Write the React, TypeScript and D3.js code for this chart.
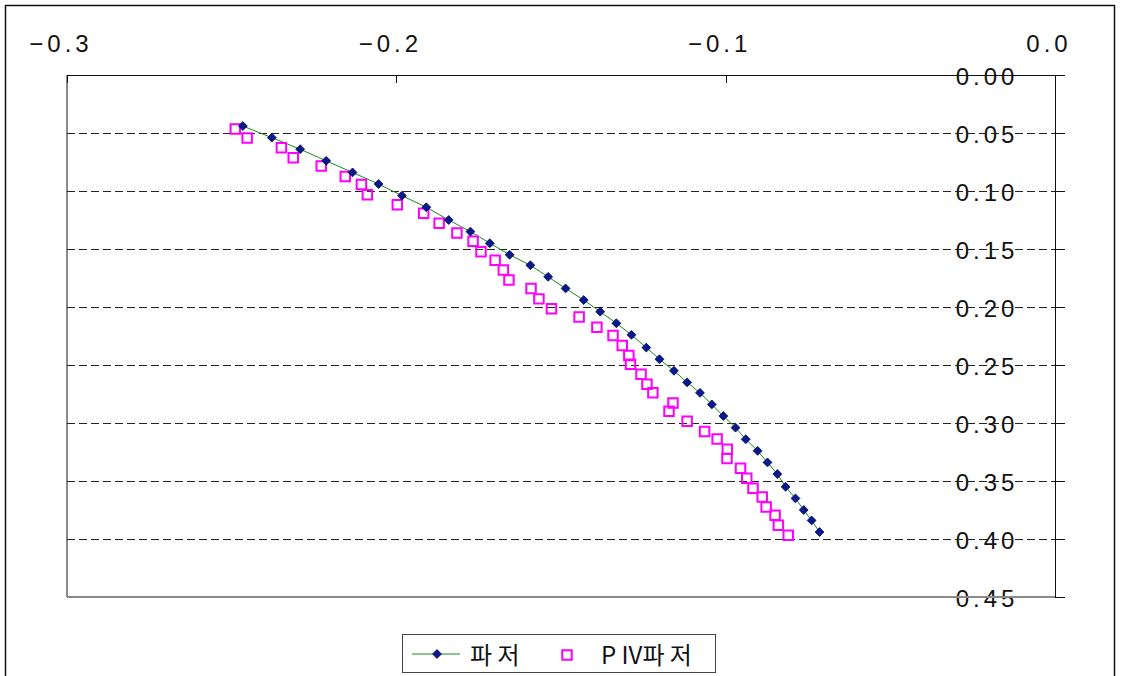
import React, { useEffect, useRef } from 'react';
import * as d3 from 'd3';

// series 1: 파저 (navy diamonds, green line)
const seriesAx = [
  -0.2466, -0.2378, -0.2292, -0.2213, -0.2133, -0.2054, -0.1983, -0.1909, -0.1841, -0.1775,
  -0.1716, -0.1656, -0.1593, -0.1539, -0.1486, -0.1431, -0.1381, -0.1332, -0.1286, -0.1241,
  -0.1201, -0.1157, -0.1117, -0.1078, -0.1042, -0.1007, -0.0970, -0.0939, -0.0903, -0.0873,
  -0.0843, -0.0818, -0.0788, -0.0763, -0.0739, -0.0715,
];
const seriesAy = [
  0.044, 0.054, 0.064, 0.074, 0.084, 0.094, 0.104, 0.114, 0.125, 0.135,
  0.145, 0.155, 0.164, 0.174, 0.184, 0.194, 0.204, 0.214, 0.224, 0.235,
  0.245, 0.255, 0.265, 0.274, 0.284, 0.294, 0.304, 0.314, 0.324, 0.334,
  0.344, 0.355, 0.365, 0.375, 0.384, 0.394,
];

// series 2: PIV파저 (magenta open squares)
const seriesBx = [
  -0.2489, -0.2453, -0.2349, -0.2313, -0.2228, -0.2155, -0.2106, -0.2088, -0.1997, -0.1917,
  -0.1870, -0.1816, -0.1767, -0.1743, -0.1700, -0.1675, -0.1658, -0.1591, -0.1567, -0.1529,
  -0.1445, -0.1391, -0.1342, -0.1314, -0.1294, -0.1289, -0.1257, -0.1239, -0.1221, -0.1160,
  -0.1172, -0.1117, -0.1064, -0.1026, -0.0995, -0.0996, -0.0955, -0.0936, -0.0917, -0.0889,
  -0.0877, -0.0850, -0.0840, -0.0810,
];
const seriesBy = [
  0.0466, 0.0543, 0.0627, 0.0713, 0.0785, 0.0874, 0.0943, 0.1033, 0.1119, 0.1192,
  0.1279, 0.1363, 0.1434, 0.1524, 0.1596, 0.1682, 0.1768, 0.1840, 0.1930, 0.2016,
  0.2087, 0.2174, 0.2245, 0.2332, 0.2418, 0.2493, 0.2579, 0.2665, 0.2740, 0.2827,
  0.2898, 0.2985, 0.3073, 0.3138, 0.3226, 0.3306, 0.3390, 0.3476, 0.3562, 0.3638,
  0.3724, 0.3795, 0.3882, 0.3968,
];

const xTicks = [-0.3, -0.2, -0.1, 0.0];
const yTicks = [0, 0.05, 0.1, 0.15, 0.2, 0.25, 0.3, 0.35, 0.4, 0.45];
const legendNames = ['파 저', 'P IV파 저'];

const numFont = '"Liberation Sans", Arial, sans-serif';
const krFont = '"Noto Sans CJK KR", "Liberation Sans", sans-serif';

const App = () => {
  const svgRef = useRef<SVGSVGElement>(null);

  useEffect(() => {
    const width = 1121;
    const height = 676;
    const plot = { left: 67, right: 1055, top: 75, bottom: 597 };

    const svg = d3.select(svgRef.current);
    svg.selectAll('*').remove();
    svg.attr('width', width).attr('height', height);

    svg.append('rect')
      .attr('width', width).attr('height', height).attr('fill', '#fff');

    // outer chart border
    svg.append('rect')
      .attr('x', 5.5).attr('y', 5.5)
      .attr('width', 1109).attr('height', 700)
      .attr('fill', 'none').attr('stroke', '#111').attr('stroke-width', 1.5);

    const x = d3.scaleLinear().domain([-0.3, 0]).range([plot.left, plot.right]);
    const y = d3.scaleLinear().domain([0, 0.45]).range([plot.top, plot.bottom]);

    // y labels (drawn under the grid, like the original)
    svg.append('g')
      .selectAll('text')
      .data(yTicks)
      .enter()
      .append('text')
      .attr('x', plot.right - 68)
      .attr('y', d => y(d) + 10)
      .attr('text-anchor', 'middle')
      .attr('font-family', numFont)
      .attr('font-size', 24)
      .attr('letter-spacing', 4)
      .attr('fill', '#111')
      .text(d => d3.format('.2f')(d));

    // plot frame: grey left and bottom
    svg.append('line')
      .attr('x1', plot.left).attr('x2', plot.left)
      .attr('y1', plot.top).attr('y2', plot.bottom)
      .attr('stroke', '#8a8a8a').attr('stroke-width', 2);
    svg.append('line')
      .attr('x1', plot.left).attr('x2', plot.right)
      .attr('y1', plot.bottom).attr('y2', plot.bottom)
      .attr('stroke', '#8a8a8a').attr('stroke-width', 2);

    // dashed grid
    svg.append('g')
      .selectAll('line')
      .data(yTicks.filter(d => d > 0 && d < 0.45))
      .enter()
      .append('line')
      .attr('x1', plot.left).attr('x2', plot.right)
      .attr('y1', d => Math.round(y(d)) + 0.5).attr('y2', d => Math.round(y(d)) + 0.5)
      .attr('stroke', '#222').attr('stroke-width', 1)
      .attr('stroke-dasharray', '8 4');

    // top x axis
    svg.append('line')
      .attr('x1', plot.left).attr('x2', plot.right)
      .attr('y1', plot.top + 0.5).attr('y2', plot.top + 0.5)
      .attr('stroke', '#111');
    svg.append('g')
      .selectAll('line')
      .data(xTicks)
      .enter()
      .append('line')
      .attr('x1', d => Math.round(x(d)) + 0.5).attr('x2', d => Math.round(x(d)) + 0.5)
      .attr('y1', plot.top).attr('y2', plot.top + 8)
      .attr('stroke', '#111');
    svg.append('g')
      .selectAll('text')
      .data(xTicks)
      .enter()
      .append('text')
      .attr('x', d => x(d) - 6)
      .attr('y', 52)
      .attr('text-anchor', 'middle')
      .attr('font-family', numFont)
      .attr('font-size', 24)
      .attr('letter-spacing', 4)
      .attr('fill', '#111')
      .text(d => d3.format('.1f')(d).replace('-', '\u2212'));

    // right y axis
    svg.append('line')
      .attr('x1', plot.right + 0.5).attr('x2', plot.right + 0.5)
      .attr('y1', plot.top).attr('y2', plot.bottom)
      .attr('stroke', '#111');
    svg.append('g')
      .selectAll('line')
      .data(yTicks)
      .enter()
      .append('line')
      .attr('x1', plot.right).attr('x2', plot.right + 10)
      .attr('y1', d => Math.round(y(d)) + 0.5).attr('y2', d => Math.round(y(d)) + 0.5)
      .attr('stroke', '#111');

    const ptsA = seriesAx.map((v, i) => [v, seriesAy[i]] as [number, number]);
    const ptsB = seriesBx.map((v, i) => [v, seriesBy[i]] as [number, number]);

    svg.append('path')
      .datum(ptsA)
      .attr('d', d3.line<[number, number]>().x(d => x(d[0])).y(d => y(d[1])))
      .attr('fill', 'none')
      .attr('stroke', '#1a8a1a')
      .attr('stroke-width', 1);

    const diamond = d3.symbol().type(d3.symbolDiamond2).size(50);
    const square = d3.symbol().type(d3.symbolSquare).size(90);

    svg.append('g')
      .selectAll('path')
      .data(ptsB)
      .enter()
      .append('path')
      .attr('transform', d => `translate(${x(d[0])},${y(d[1])})`)
      .attr('d', square)
      .attr('fill', 'none')
      .attr('stroke', '#ff00ff')
      .attr('stroke-width', 2);

    svg.append('g')
      .selectAll('path')
      .data(ptsA)
      .enter()
      .append('path')
      .attr('transform', d => `translate(${x(d[0])},${y(d[1])})`)
      .attr('d', diamond)
      .attr('fill', '#0a1a8a')
      .attr('stroke', '#000060')
      .attr('stroke-width', 0.8);

    // legend
    const lg = svg.append('g');
    lg.append('rect')
      .attr('x', 402.5).attr('y', 634.5)
      .attr('width', 313).attr('height', 38)
      .attr('fill', '#fff').attr('stroke', '#444').attr('stroke-width', 1);
    lg.append('line')
      .attr('x1', 412).attr('x2', 460).attr('y1', 654).attr('y2', 654)
      .attr('stroke', '#1a8a1a');
    lg.append('path')
      .attr('transform', 'translate(437,654)')
      .attr('d', diamond)
      .attr('fill', '#0a1a8a').attr('stroke', '#000060').attr('stroke-width', 0.8);
    lg.append('path')
      .attr('transform', 'translate(567,655)')
      .attr('d', square)
      .attr('fill', 'none').attr('stroke', '#ff00ff').attr('stroke-width', 2);
    lg.selectAll('text.leg')
      .data(legendNames)
      .enter()
      .append('text')
      .attr('class', 'leg')
      .attr('x', (d, i) => (i === 0 ? 470 : 601))
      .attr('y', 664)
      .attr('font-family', krFont)
      .attr('font-size', 24)
      .attr('fill', '#111')
      .text(d => d);
  }, []);

  return <svg ref={svgRef} style={{ position: 'absolute', left: 0, top: 0 }}></svg>;
};

export default App;
